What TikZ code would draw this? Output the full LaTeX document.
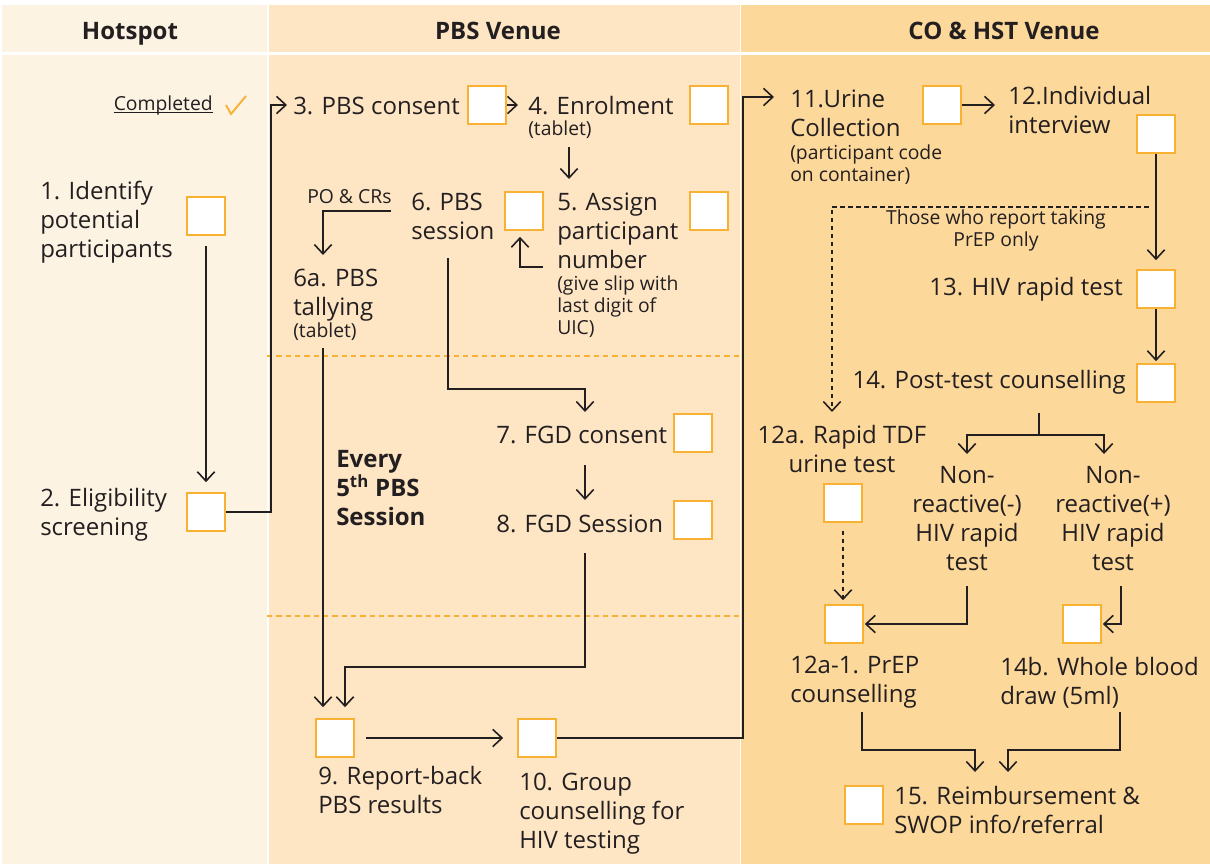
\documentclass[tikz,border=0pt]{standalone}
\usepackage{fontspec}
\setmainfont{Open Sans}
\usetikzlibrary{arrows.meta}
\definecolor{ink}{HTML}{231F20}
\definecolor{hotA}{HTML}{FDF3E3}
\definecolor{pbsA}{HTML}{FEE6C5}
\definecolor{coA}{HTML}{FDD89B}
\definecolor{tick}{HTML}{F8B133}

\begin{document}
\begin{tikzpicture}[x=0.75pt, y=-0.75pt,
  >={Straight Barb[length=7pt,width=13pt]},
  flow/.style={draw=ink, line width=1.2pt},
  flowdash/.style={flow, dash pattern=on 3.5pt off 2.5pt},
  chk/.style={draw=tick, line width=1.2pt, fill=white, minimum size=28.5pt, inner sep=0pt},
  lbl/.style={inner sep=0pt, align=left, text=ink, font=\fontsize{18}{21.75}\selectfont},
  sml/.style={lbl, font=\fontsize{14.5}{16.5}\selectfont},
  hdr/.style={lbl, font=\fontsize{18}{21.75}\selectfont\bfseries}]

%columns
\useasboundingbox (0,0) rectangle (1210,864);
\foreach \xa/\xb/\c in {2/267/hotA, 269/740/pbsA, 741/1210/coA}{
  \fill[\c] (\xa,5) rectangle (\xb,52);
  \fill[\c] (\xa,55) rectangle (\xb,864);
}
\foreach \y in {356,616}
  \draw[tick, line width=0.9pt, dash pattern=on 4pt off 3pt] (267,\y) -- (740,\y);

%headers
\node[hdr, anchor=base] (h1) at (130,39) {Hotspot};
\node[hdr, anchor=base] (h2) at (498,39) {PBS Venue};
\node[hdr, anchor=base] (h3) at (1004,39) {CO \& HST Venue};

%boxes
\foreach \n/\x/\y in {b1/206/216, b2/206/512, b3/487/105, b4/709/105, b5/709/211,
    b6/524/211, b7/693/433, b8/693/520, b9/335/738, b10/537/738, b11/942/105,
    b12/1156/134, b13/1156/289, b14/1156/383, b12a/843/503, b12a1/844/624,
    b14b/1082/624, b15/864/805}
  \node[chk] (\n) at (\x,\y) {};

%legend
\node[sml, anchor=base east] (tdone) at (213,110) {Completed};
\draw[ink, line width=0.6pt] ([yshift=-1.5pt]tdone.base west) -- ([yshift=-1.5pt]tdone.base east);
\draw[tick, line width=1.4pt] (226,105) -- (231,114) -- (246,96);

%hotspot (base = last line)
\node[lbl, anchor=base west] (t1) at (40,257) {1. Identify\\potential\\participants};
\node[lbl, anchor=base west] (t2) at (40,535) {2. Eligibility\\screening};

%pbs venue
\node[lbl, anchor=base west] (t3) at (293,114) {3. PBS consent};
\node[lbl, anchor=base west] (t4) at (528,114) {4. Enrolment};
\node[sml, anchor=base west] (t4n) at (528,135) {(tablet)};
\node[lbl, anchor=base west] (t6) at (411,239) {6. PBS\\session};
\node[lbl, anchor=base west] (t5) at (557,268) {5. Assign\\participant\\number};
\node[sml, anchor=base west] (t5n) at (557,334) {(give slip with\\last digit of\\UIC)};
\node[sml, anchor=base west] (tpo) at (307,203) {PO \& CRs};
\node[lbl, anchor=base west] (t6a) at (293,315) {6a. PBS\\tallying};
\node[sml, anchor=base west] (t6an) at (293,337) {(tablet)};
\node[lbl, anchor=base west] (t7) at (496,443) {7. FGD consent};
\node[lbl, anchor=base west] (t8) at (496,532) {8. FGD Session};
\node[hdr, anchor=base west] (tevery) at (336,525) {Every\\5\textsuperscript{th} PBS\\Session};
\node[lbl, anchor=base west] (t9) at (318,813) {9. Report-back\\PBS results};
\node[lbl, anchor=base west] (t10) at (519,848) {10. Group\\counselling for\\HIV testing};

%co & hst venue
\node[lbl, anchor=base west] (t11) at (790,136) {11.Urine\\Collection};
\node[sml, anchor=base west] (t11n) at (790,181) {(participant code\\on container)};
\node[lbl, anchor=base west] (t12) at (1008,133) {12.Individual\\interview};
\node[sml, anchor=base, align=center] (tprep) at (996,246) {Those who report taking\\PrEP only};
\node[lbl, anchor=base east] (t13) at (1123,295) {13. HIV rapid test};
\node[lbl, anchor=base east] (t14) at (1126,388) {14. Post-test counselling};
\node[lbl, anchor=base, align=center] (t12a) at (842,472) {12a. Rapid TDF\\urine test};
\node[lbl, anchor=base, align=center] (tneg) at (967,570) {Non-\\reactive(-)\\HIV rapid\\test};
\node[lbl, anchor=base, align=center] (tpos) at (1113,570) {Non-\\reactive(+)\\HIV rapid\\test};
\node[lbl, anchor=base west] (t12a1) at (790,702) {12a-1. PrEP\\counselling};
\node[lbl, anchor=base west] (t14b) at (1000,704) {14b. Whole blood\\draw (5ml)};
\node[lbl, anchor=base west] (t15) at (894,833) {15. Reimbursement \&\\SWOP info/referral};

%arrows
\draw[->, flow] ([yshift=-7.5pt]b1.south) -- ([yshift=7.5pt]b2.north);
\draw[->, flow] (b2.east) -- ++(45,0) |- ([shift={(-6,-9)}]t3.base west);
\draw[->, flow] (b3.east) -- ([xshift=-7.5pt]t4.west |- b3.east);
\draw[->, flow] ([shift={(41,12)}]t4n.base west) -- ([shift={(12,-89)}]t5.base west);
\draw[->, flow] ([shift={(-14,-1)}]t5.base west) -| ([shift={(-4,6)}]b6.south);
\draw[->, flow] ([shift={(-1,8)}]tpo.base east) -| ([shift={(30,-60)}]t6a.base west);
\draw[->, flow] ([shift={(30,11)}]t6an.base west) -- ([shift={(-12,-11)}]b9.north);
\draw[->, flow] ([shift={(37,19)}]t6.base west) -- ++(0,131) -| ([shift={(89,-31)}]t7.base west);
\draw[->, flow] ([shift={(89,22)}]t7.base west) -- ([shift={(89,-32)}]t8.base west);
\draw[->, flow] ([shift={(89,21)}]t8.base west) -- ++(0,114) -| ([shift={(10,-11)}]b9.north);
\draw[->, flow] ([xshift=8.25pt]b9.east) -- ([xshift=-10.5pt]b10.west);
\draw[->, flow] (b10.east) -- ++(186,0) |- ([shift={(-16,-39)}]t11.base west);
\draw[->, flow] (b11.east) -- ([xshift=-9.75pt]t12.west |- b11.east);
\draw[->, flow] (b12.south) -- ([yshift=6.75pt]b13.north);
\draw[->, flow] (b13.south) -- ([yshift=1.5pt]b14.north);
\draw[->, flowdash] ([shift={(-7,53)}]b12.south) -| ([shift={(-10,-60)}]t12a.base);
\coordinate (fork) at ([shift={(-87,47)}]t14.base east);
\draw[flow] ([shift={(-87,25)}]t14.base east) -- (fork);
\draw[->, flow] (fork) -| ([shift={(0,-116)}]tneg.base);
\draw[->, flow] (fork) -| ([shift={(-9,-116)}]tpos.base);
\draw[->, flowdash] ([shift={(0,8)}]b12a.south) -- ([shift={(0,-4)}]b12a.south |- b12a1.north);
\draw[->, flow] ([shift={(0,16)}]tneg.base) |- ([shift={(1,0)}]b12a1.east);
\draw[->, flow] ([shift={(8,16)}]tpos.base) |- ([shift={(1,0)}]b14b.east);
\draw[->, flow] ([shift={(72,10)}]t12a1.base west) -- ++(0,38) -| ([shift={(81,-61)}]t15.base west);
\draw[->, flow] ([shift={(120,8)}]t14b.base west) -- ++(0,38) -| ([shift={(114,-61)}]t15.base west);

\end{tikzpicture}
\end{document}
